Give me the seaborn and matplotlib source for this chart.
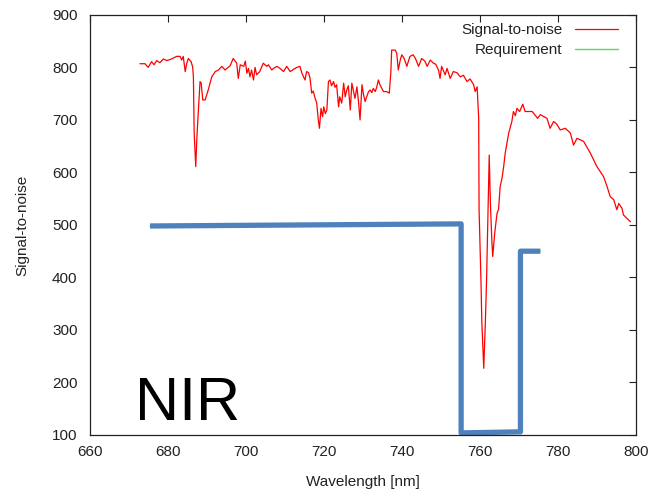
import numpy as np
import pandas as pd
import matplotlib
matplotlib.use('Agg')
import matplotlib.pyplot as plt
import seaborn as sns

wavelength = [
    672.8, 674.1, 674.9, 675.8, 676.4, 677.1, 677.9, 678.8, 679.7, 680.9,
    682.2, 683.1, 683.5, 683.9, 684.4, 684.8, 685.2, 685.9, 686.3, 686.5,
    686.7, 687.1, 687.4, 687.8, 688.2, 688.5, 688.9, 689.5, 690.3, 691.2,
    692.1, 692.9, 693.8, 694.6, 695.9, 696.7, 697.6, 698.0, 698.5, 699.4,
    699.8, 700.2, 700.6, 701.0, 701.4, 701.9, 702.3, 702.7, 703.5, 704.4,
    705.3, 705.7, 706.6, 707.0, 707.9, 708.7, 709.6, 710.4, 711.3, 712.1,
    713.0, 713.8, 714.3, 715.1, 715.5, 716.0, 716.4, 716.8, 717.2, 717.7,
    718.1, 718.5, 718.8, 719.2, 719.6, 719.9, 720.3, 720.7, 721.1, 721.5,
    721.9, 722.4, 722.8, 723.2, 723.7, 724.0, 724.5, 725.0, 725.4, 725.8,
    726.2, 726.7, 727.1, 727.5, 727.9, 728.4, 728.8, 729.2, 729.7, 730.1,
    730.5, 730.9, 731.4, 731.8, 732.2, 732.6, 733.1, 733.5, 733.9, 734.3,
    734.8, 735.2, 736.0, 736.7, 737.1, 737.3, 738.2, 738.6, 739.0, 739.5,
    739.9, 740.5, 741.2, 741.6, 742.0, 742.8, 743.4, 744.2, 745.0, 745.8,
    746.4, 747.2, 748.0, 748.6, 749.3, 749.7, 750.1, 751.0, 751.5, 752.3,
    753.1, 754.0, 754.9, 755.7, 756.6, 757.4, 758.3, 758.7, 759.2, 759.6,
    759.7, 760.2, 760.4, 760.9, 761.3, 761.6, 761.9, 762.3, 762.6, 763.0,
    763.2, 763.7, 764.3, 764.7, 765.1, 765.6, 766.0, 766.4, 767.3, 768.1,
    768.5, 769.0, 769.4, 770.1, 770.9, 771.5, 772.4, 773.3, 774.7, 775.4,
    777.1, 777.9, 778.8, 779.6, 780.5, 781.8, 783.1, 783.9, 784.8, 786.5,
    788.2, 789.9, 791.6, 792.5, 793.3, 794.2, 795.0, 795.5, 796.3, 796.7,
    798.5,
]
snr = [
    807, 807, 800, 811, 805, 813, 809, 816, 813, 816,
    821, 821, 814, 821, 792, 808, 817, 811, 801, 782,
    675, 611, 668, 719, 773, 770, 738, 738, 757, 782,
    792, 795, 802, 795, 803, 817, 808, 779, 805, 802,
    812, 789, 798, 782, 795, 776, 800, 786, 792, 808,
    802, 805, 795, 798, 802, 798, 792, 802, 792, 796,
    800, 802, 789, 776, 792, 790, 779, 751, 755, 741,
    732, 700, 684, 722, 706, 725, 712, 719, 773, 776,
    765, 773, 762, 767, 725, 744, 732, 770, 744, 757,
    765, 719, 770, 755, 741, 763, 735, 700, 767, 748,
    735, 744, 754, 757, 752, 760, 754, 763, 776, 767,
    760, 754, 754, 751, 792, 833, 833, 827, 795, 814,
    824, 817, 802, 812, 821, 824, 817, 802, 817, 812,
    802, 814, 808, 806, 795, 779, 802, 786, 798, 779,
    792, 790, 782, 785, 773, 778, 767, 754, 763, 703,
    529, 389, 316, 227, 313, 389, 497, 633, 541, 465,
    440, 484, 522, 530, 573, 590, 611, 637, 675, 697,
    716, 708, 722, 716, 730, 716, 716, 716, 703, 710,
    703, 684, 697, 692, 681, 684, 675, 652, 665, 659,
    637, 611, 592, 573, 554, 548, 529, 541, 532, 519,
    506,
]

# Requirement curve
req_wavelength = [675.4, 755.1, 755.1, 770.3, 770.3, 775.4]
req_snr = [498, 502, 104, 106, 450, 450]

spec = pd.DataFrame({'wavelength': wavelength, 'snr': snr})
req = pd.DataFrame({'wavelength': req_wavelength, 'snr': req_snr})

sns.set_style('white')
plt.rcParams['font.family'] = ['Liberation Sans', 'DejaVu Sans']

fig = plt.figure(figsize=(6.52, 4.96), dpi=100)
ax = fig.add_axes([0.138, 0.123, 0.838, 0.847])

sns.lineplot(data=spec, x='wavelength', y='snr', ax=ax, color='#ff0000',
             linewidth=0.9, sort=False, estimator=None, label='Signal-to-noise')
sns.lineplot(data=req, x='wavelength', y='snr', ax=ax, color='#55dd55',
             linewidth=1.0, sort=False, estimator=None, label='Requirement')
# highlighted requirement drawn on top
sns.lineplot(data=req, x='wavelength', y='snr', ax=ax, color='#4f81bd',
             linewidth=3.8, sort=False, estimator=None, legend=False,
             solid_joinstyle='round', solid_capstyle='butt')

ax.set_xlim(660, 800)
ax.set_ylim(100, 900)
ax.set_xticks(np.arange(660, 801, 20))
ax.set_yticks(np.arange(100, 901, 100))
ax.tick_params(direction='in', length=5, width=0.8, top=True, right=True,
               labelsize=11, colors='#222222')
ax.tick_params(axis='x', pad=7)
ax.tick_params(axis='y', pad=9)
for s in ax.spines.values():
    s.set_color('#222222')
    s.set_linewidth(0.9)

ax.set_xlabel('Wavelength [nm]', fontsize=11, color='#222222', labelpad=12)
ax.set_ylabel('Signal-to-noise', fontsize=11, color='#222222', labelpad=16)

leg = ax.legend(loc='upper right', bbox_to_anchor=(0.988, 1.01), frameon=False,
                markerfirst=False, fontsize=11, handlelength=2.8,
                handletextpad=0.8, labelspacing=0.4, borderpad=0.3)
for t in leg.get_texts():
    t.set_color('#222222')

ax.text(671.6, 128, 'NIR', fontsize=44, color='black', ha='left', va='baseline')

fig.savefig('out.png', dpi=100)
